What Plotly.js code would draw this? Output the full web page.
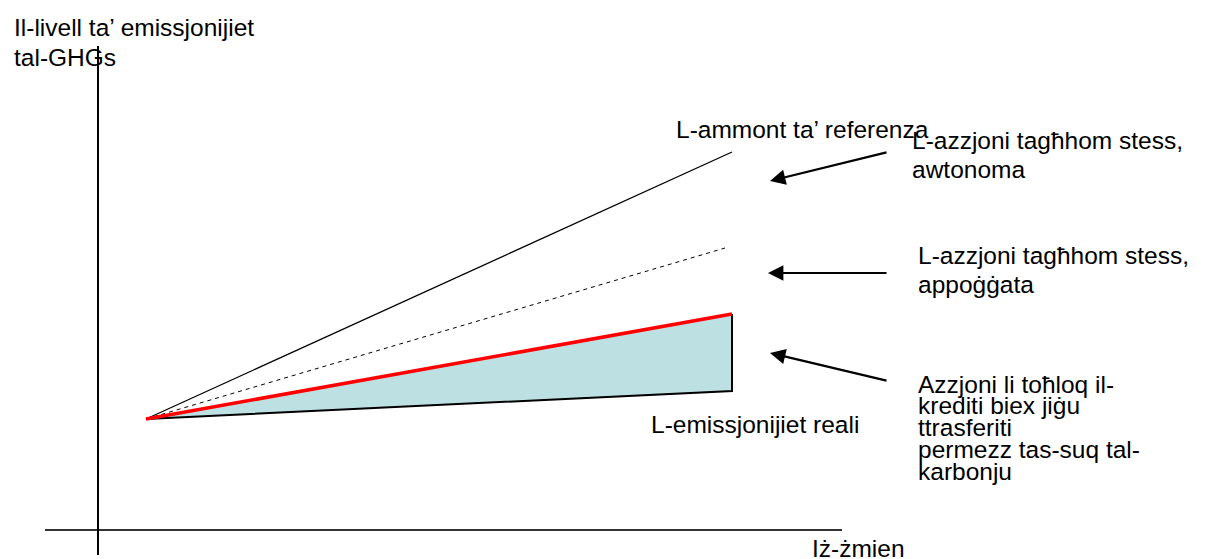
<!DOCTYPE html>
<html>
<head>
<meta charset="utf-8">
<script src="https://cdn.plot.ly/plotly-3.0.1.min.js"></script>
<style>html,body{margin:0;padding:0;background:#fff;}#chart{width:1205px;height:559px;}</style>
</head>
<body>
<div id="chart"></div>
<script>
// Schematic values (time units on x, emission level units on y)
const timeStart = 4.8;
const timeEnd = 63.4;
const emissionStart = 11.1;
const referenceEnd = 37.8;      // L-ammont ta' referenza
const supportedTimeEnd = 62.7;
const supportedEnd = 28.2;      // azzjoni appoġġata (dashed)
const creditedEnd = 21.6;       // red line
const actualEnd = 13.9;         // L-emissjonijiet reali

// Axes of the diagram
const xAxisLineX = [-5.3, 74.4];
const yAxisLineY = [-2.5, 48.4];

// Labels
const labelTexts = [
  "Il-livell ta’ emissjonijiet", "tal-GHGs",
  "L-ammont ta’ referenza",
  "L-azzjoni tagħhom stess,", "awtonoma",
  "L-azzjoni tagħhom stess,", "appoġġata",
  "Azzjoni li toħloq il-", "krediti biex jiġu", "ttrasferiti", "permezz tas-suq tal-", "karbonju",
  "L-emissjonijiet reali",
  "Iż-żmien"
];
const labelX = [-8.5, -8.5, 57.7, 81.3, 81.3, 81.9, 81.9, 81.9, 81.9, 81.9, 81.9, 81.9, 55.2, 71.3];
const labelY = [50.3, 47.3, 40.1, 39.0, 36.1, 27.5, 24.6, 14.6, 12.5, 10.3, 8.1, 5.9, 10.6, -1.8];

// Arrows: tail -> head
const arrowTailX = [79.0, 79.0, 79.0];
const arrowTailY = [37.8, 25.7, 14.9];
const arrowHeadX = [67.2, 67.0, 67.2];
const arrowHeadY = [34.9, 25.7, 17.7];

const traces = [
  { // shaded area between red line and actual emissions
    x: [timeStart, timeEnd, timeEnd, timeStart],
    y: [emissionStart, creditedEnd, actualEnd, emissionStart],
    mode: 'lines', fill: 'toself', fillcolor: '#BDE0E3',
    line: {color: 'rgba(0,0,0,0)', width: 0}, hoverinfo: 'skip'
  },
  { // actual emissions line + vertical edge
    x: [timeStart, timeEnd, timeEnd],
    y: [emissionStart, actualEnd, creditedEnd],
    mode: 'lines', line: {color: '#000', width: 2}, hoverinfo: 'skip'
  },
  { // reference
    x: [timeStart, timeEnd], y: [emissionStart, referenceEnd],
    mode: 'lines', line: {color: '#000', width: 1.3}, hoverinfo: 'skip'
  },
  { // supported action (dashed)
    x: [timeStart, supportedTimeEnd], y: [emissionStart, supportedEnd],
    mode: 'lines', line: {color: '#000', width: 1, dash: '4px,4px'}, hoverinfo: 'skip'
  },
  { // red line
    x: [timeStart, timeEnd], y: [emissionStart, creditedEnd],
    mode: 'lines', line: {color: '#FF0000', width: 3.5}, hoverinfo: 'skip'
  }
];

const shapes = [
  {type: 'line', xref: 'x', yref: 'y', x0: xAxisLineX[0], x1: xAxisLineX[1], y0: 0, y1: 0,
   line: {color: '#333', width: 2}},
  {type: 'line', xref: 'x', yref: 'y', x0: 0, x1: 0, y0: yAxisLineY[0], y1: yAxisLineY[1],
   line: {color: '#000', width: 2}}
];

const font = {family: 'Liberation Sans, Arial, sans-serif', size: 24.5, color: '#000'};
const annotations = labelTexts.map((t, i) => ({
  text: t, x: labelX[i], y: labelY[i], xref: 'x', yref: 'y',
  xanchor: 'left', yanchor: 'middle', showarrow: false, font: font, borderpad: 0
}));
for (let i = 0; i < arrowTailX.length; i++) {
  annotations.push({
    x: arrowHeadX[i], y: arrowHeadY[i], ax: arrowTailX[i], ay: arrowTailY[i],
    xref: 'x', yref: 'y', axref: 'x', ayref: 'y', text: '',
    showarrow: true, arrowhead: 2, arrowsize: 1.4, arrowwidth: 2.2, arrowcolor: '#000'
  });
}

const layout = {
  width: 1205, height: 559,
  margin: {l: 0, r: 0, t: 0, b: 0},
  paper_bgcolor: '#fff', plot_bgcolor: '#fff',
  showlegend: false,
  xaxis: {range: [-9.8, 110.7], visible: false, fixedrange: true},
  yaxis: {range: [-2.9, 53.0], visible: false, fixedrange: true},
  shapes: shapes,
  annotations: annotations
};

Plotly.newPlot('chart', traces, layout, {staticPlot: true, displayModeBar: false});
</script>
</body>
</html>
